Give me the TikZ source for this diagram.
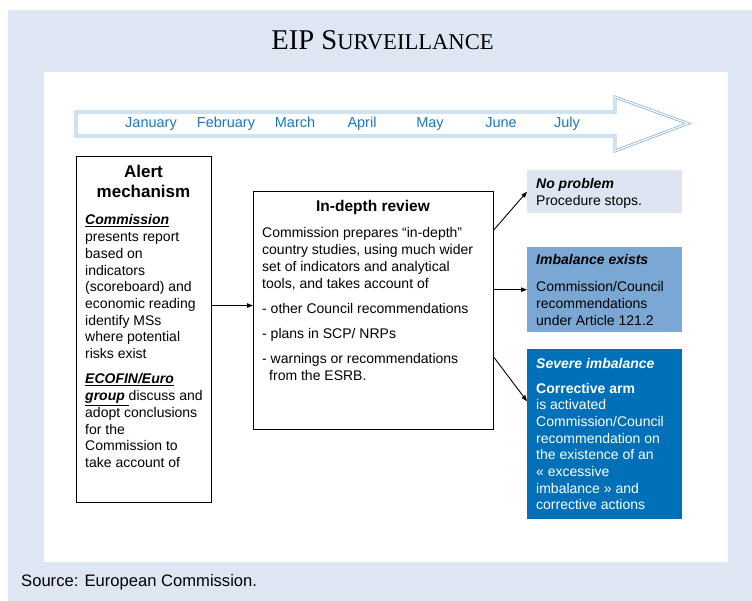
\documentclass[tikz,border=0pt]{standalone}
\usepackage{fontspec}
\setmainfont{Liberation Sans}
\newfontfamily\titlefont{Liberation Serif}
\usetikzlibrary{arrows.meta}
\definecolor{bgblue}{RGB}{223,230,243}
\definecolor{npfill}{RGB}{222,229,242}
\definecolor{imbfill}{RGB}{122,167,211}
\definecolor{sevfill}{RGB}{0,112,184}
\definecolor{monthblue}{RGB}{31,120,190}
\definecolor{arrowblue}{RGB}{120,172,218}
\newcommand\txtsz{\fontsize{14}{16.7}\selectfont}
\newcommand\bix[1]{\textbf{\textit{#1}}}
\begin{document}
\begin{tikzpicture}[x=1pt,y=-1pt,
  boxline/.style={draw=black,line width=1.1pt,fill=white,inner sep=0pt,anchor=north west},
  colbox/.style={draw=none,inner sep=0pt,anchor=north west,minimum width=155pt},
  txt/.style={anchor=base west,inner sep=0pt},
  month/.style={anchor=base,inner sep=0pt,text=monthblue,font=\fontsize{14.5}{16}\selectfont},
  arr/.style={-{Triangle[length=6pt,width=4.5pt]},line width=0.9pt}]
\useasboundingbox (0,0) rectangle (752,601);
\fill[bgblue] (8,10) rectangle (752,601);
\fill[white] (44,72) rectangle (728,562);

\node[anchor=base,inner sep=0pt] (title) at (382.5,50)
  {\titlefont\fontsize{28.6}{30}\selectfont EIP S\fontsize{22.6}{24}\selectfont URVEILLANCE};

% timeline arrow
\draw[draw=arrowblue,line width=0.7pt,double=white,double distance=1.3pt,line join=miter]
  (76,112) -- (615,112) -- (615,97) -- (688,123.5) -- (615,151) -- (615,136) -- (76,136) -- cycle;
\node[month] (m1) at (151,128) {January};
\node[month] (m2) at (226,128) {February};
\node[month] (m3) at (295,128) {March};
\node[month] (m4) at (362,128) {April};
\node[month] (m5) at (430,128) {May};
\node[month] (m6) at (501,128) {June};
\node[month] (m7) at (567,128) {July};

% alert mechanism
\node[boxline,minimum width=135pt,minimum height=346pt] (alert) at (76,156) {};
\node[anchor=base,inner sep=0pt] (alerttitle) at (143.5,178)
  {\parbox[t]{130pt}{\centering\fontsize{17}{20}\selectfont\bfseries Alert\\mechanism}};
\node[txt] (alerttext) at (85,225) {\parbox[t]{126pt}{\raggedright\txtsz
  \underline{\bix{Commission}}\\
  presents report\\
  based on\\
  indicators\\
  (scoreboard) and\\
  economic reading\\
  identify MSs\\
  where potential\\
  risks exist\par\vspace{8.7pt}
  \underline{\bix{ECOFIN/Euro}}\\
  \underline{\bix{group}\ }discuss and\\
  adopt conclusions\\
  for the\\
  Commission to\\
  take account of}};

% in-depth review
\node[boxline,minimum width=240pt,minimum height=238pt] (review) at (253,191) {};
\node[anchor=base,inner sep=0pt] (reviewtitle) at (373,212)
  {\fontsize{15.5}{18}\selectfont\bfseries In-depth review};
\node[txt] (reviewtext) at (262,238) {\parbox[t]{228pt}{\raggedright\txtsz
  Commission prepares “in-depth”\\
  country studies, using much wider\\
  set of indicators and analytical\\
  tools, and takes account of\par\vspace{8.5pt}
  - other Council recommendations\par\vspace{8.5pt}
  - plans in SCP/ NRPs\par\vspace{8.5pt}
  - warnings or recommendations\\
  \hspace*{7pt}from the ESRB.}};

% outcome boxes
\node[colbox,fill=npfill,minimum height=43pt] (noprob) at (527,170) {};
\node[txt] (noprobtext) at (536,189) {\parbox[t]{145pt}{\raggedright\txtsz
  \bix{No problem}\\
  Procedure stops.}};

\node[colbox,fill=imbfill,minimum height=85pt] (imb) at (527,247) {};
\node[txt] (imbtext) at (536,265) {\parbox[t]{145pt}{\raggedright\txtsz
  \bix{Imbalance exists}\par\vspace{10.3pt}
  Commission/Council\\
  recommendations\\
  under Article 121.2}};

\node[colbox,fill=sevfill,minimum height=170pt] (sev) at (527,349) {};
\node[txt,text=white] (sevtext) at (536,368) {\parbox[t]{145pt}{\raggedright\txtsz
  \bix{Severe imbalance}\par\vspace{8.3pt}
  \textbf{Corrective arm}\\
  is activated\\
  Commission/Council\\
  recommendation on\\
  the existence of an\\
  « excessive\\
  imbalance » and\\
  corrective actions}};

% connectors
\draw[arr] ([yshift=5pt]alert.east |- review.west) -- ([yshift=5pt]review.west);
\draw[arr] ([yshift=81pt]review.east) -- (noprob.west);
\draw[arr] (imb.west -| review.east) -- (imb.west);
\draw[arr] ([yshift=-47pt]review.east) -- ([yshift=33pt]sev.west);

\node[txt] (source) at (21,586) {\fontsize{16.6}{18}\selectfont Source: European Commission.};
\end{tikzpicture}
\end{document}
